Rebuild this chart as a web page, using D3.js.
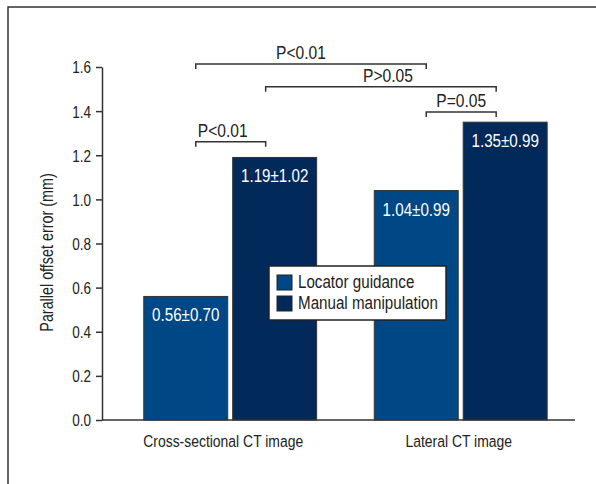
<!DOCTYPE html>
<html>
<head>
<meta charset="utf-8">
<script src="https://cdn.jsdelivr.net/npm/d3@7"></script>
<style>
  body { margin: 0; background: #fff; }
  svg text { font-family: "Liberation Sans", Arial, sans-serif; fill: #222; }
</style>
</head>
<body>
<svg id="chart" width="596" height="484"></svg>
<script>
// data
const categories = ["Cross-sectional CT image", "Lateral CT image"];
const groups = ["Locator guidance", "Manual manipulation"];
const means = [[0.56, 1.19], [1.04, 1.35]];
const sds = [[0.70, 1.02], [0.99, 0.99]];
const yTicks = [0, 0.2, 0.4, 0.6, 0.8, 1.0, 1.2, 1.4, 1.6];

// comparisons: [category, group] -> [category, group]
const pFrom = [[0, 0], [0, 1], [1, 0], [0, 0]];
const pTo = [[1, 0], [1, 1], [1, 1], [0, 1]];
const pLabels = ["P<0.01", "P>0.05", "P=0.05", "P<0.01"];
const pLevels = [1.614, 1.511, 1.396, 1.261];

const svg = d3.select("#chart"),
      margin = { top: 67, right: 21, bottom: 64, left: 102 };
const width = +svg.attr("width") - margin.left - margin.right,
      height = +svg.attr("height") - margin.top - margin.bottom;

const colors = d3.scaleOrdinal().domain(groups).range(["#004785", "#012a5a"]);

// narrow text: squeeze a regular sans like a condensed face
const SX = 0.82;
function narrow(sel, x, y, rot) {
  return sel.attr("transform", `translate(${x},${y})${rot ? ` rotate(${rot})` : ""} scale(${SX},1)`);
}

// outer frame
svg.append("rect")
  .attr("x", 8).attr("y", 7)
  .attr("width", 620).attr("height", 500)
  .attr("fill", "none")
  .attr("stroke", "#333")
  .attr("stroke-width", 1.5);

const g = svg.append("g")
  .attr("transform", `translate(${margin.left},${margin.top})`);

const x0 = d3.scaleBand()
  .domain(categories)
  .range([0, width])
  .paddingInner(0.25)
  .paddingOuter(0.151)
  .align(0.6);

const x1 = d3.scaleBand()
  .domain(groups)
  .range([0, x0.bandwidth()])
  .paddingInner(0.056);

const y = d3.scaleLinear().domain([0, 1.6]).range([height, 0]);

/* BARS */
const rows = [];
categories.forEach((c, i) => {
  groups.forEach((s, j) => {
    rows.push({ cat: c, grp: s, v: means[i][j], sd: sds[i][j] });
  });
});

g.selectAll("rect.bar")
  .data(rows)
  .enter()
  .append("rect")
  .attr("class", "bar")
  .attr("x", d => x0(d.cat) + x1(d.grp))
  .attr("y", d => y(d.v))
  .attr("width", x1.bandwidth())
  .attr("height", d => height - y(d.v))
  .attr("fill", d => colors(d.grp))
  .attr("stroke", "#333")
  .attr("stroke-width", 1);

g.selectAll("text.val")
  .data(rows)
  .enter()
  .append("text")
  .attr("class", "val")
  .each(function (d) {
    narrow(d3.select(this), x0(d.cat) + x1(d.grp) + x1.bandwidth() / 2, y(d.v) + 25);
  })
  .attr("text-anchor", "middle")
  .style("fill", "#fff")
  .style("font-size", "18.5px")
  .text(d => d.v.toFixed(2) + "\u00b1" + d.sd.toFixed(2));

/* AXES */
const yAxis = g.append("g")
  .call(d3.axisLeft(y).tickValues(yTicks).tickFormat(d3.format(".1f")).tickSize(6).tickSizeOuter(0));
yAxis.select(".domain").attr("stroke", "#333").attr("stroke-width", 1.5);
yAxis.selectAll(".tick line").attr("stroke", "#333").attr("stroke-width", 1.5);
yAxis.selectAll(".tick text")
  .attr("x", null)
  .attr("dy", "0.36em")
  .attr("transform", `translate(-11,0) scale(${SX},1)`)
  .style("font-size", "16.5px")
  .attr("fill", "#222");

g.append("line")
  .attr("x1", 0).attr("x2", width)
  .attr("y1", height).attr("y2", height)
  .attr("stroke", "#333")
  .attr("stroke-width", 1.5);

// first label sits a little left of its group in the original
const catShift = [-7, -2];
g.selectAll("text.cat")
  .data(categories)
  .enter()
  .append("text")
  .attr("class", "cat")
  .each(function (d, i) {
    narrow(d3.select(this), x0(d) + x0.bandwidth() / 2 + catShift[i], height + 27);
  })
  .attr("text-anchor", "middle")
  .style("font-size", "17px")
  .text(d => d);

narrow(g.append("text"), -49, y(0.8) + 9, -90)
  .attr("text-anchor", "middle")
  .style("font-size", "17.5px")
  .text("Parallel offset error (mm)");

/* SIGNIFICANCE BRACKETS */
// left bar of a pair is hooked right of centre, right bar left of centre
const anchor = p => x0(categories[p[0]]) + x1(groups[p[1]]) + x1.bandwidth() / 2 + (p[1] === 0 ? 10 : -9);
const labelShift = [-10, 7, 0, -8];

pLabels.forEach((lab, i) => {
  const xa = anchor(pFrom[i]),
        xb = anchor(pTo[i]),
        yy = y(pLevels[i]);
  g.append("path")
    .attr("d", `M${xa},${yy + 5}V${yy}H${xb}V${yy + 5}`)
    .attr("fill", "none")
    .attr("stroke", "#333")
    .attr("stroke-width", 1.5);
  narrow(g.append("text"), (xa + xb) / 2 + labelShift[i], yy - 5)
    .attr("text-anchor", "middle")
    .style("font-size", "19px")
    .text(lab);
});

/* LEGEND */
const legend = svg.append("g").attr("transform", "translate(269,266)");
legend.append("rect")
  .attr("width", 177).attr("height", 54)
  .attr("fill", "#fff")
  .attr("stroke", "#222")
  .attr("stroke-width", 1.5);

groups.forEach((s, i) => {
  legend.append("rect")
    .attr("x", 8).attr("y", 9 + i * 21)
    .attr("width", 15).attr("height", 15)
    .attr("fill", colors(s))
    .attr("stroke", "#222")
    .attr("stroke-width", 1);
  narrow(legend.append("text"), 29, 22 + i * 21)
    .style("font-size", "18.5px")
    .text(s);
});
</script>
</body>
</html>
